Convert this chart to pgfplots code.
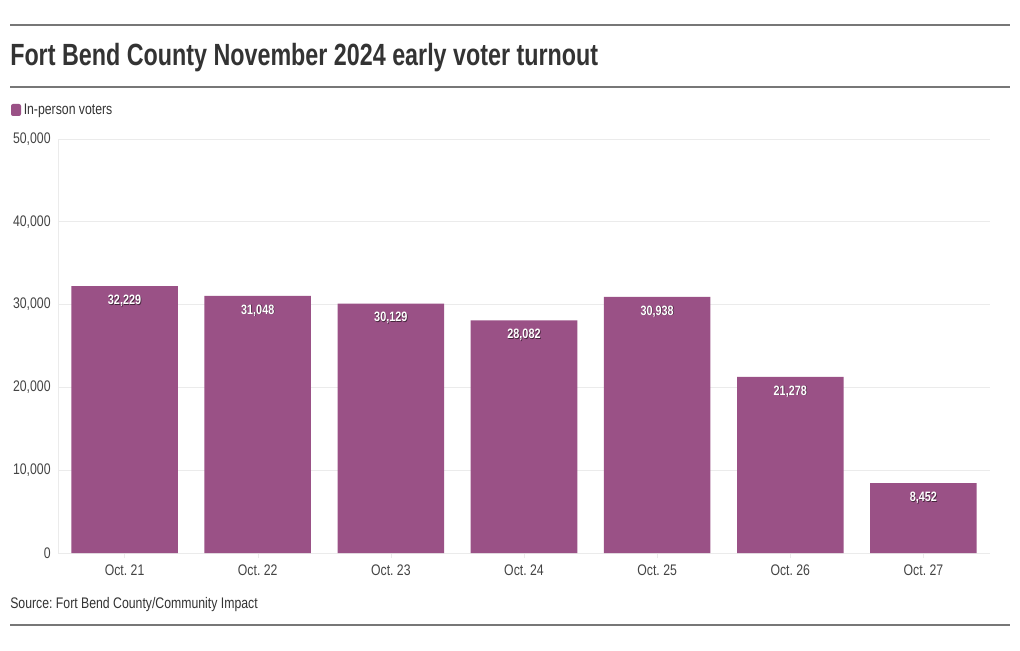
\documentclass[border=0pt]{standalone}
\usepackage{pgfplots}
\pgfplotsset{compat=1.18}
\usepackage{fontspec}
\setmainfont{Liberation Sans}[FakeStretch=0.80]
\newfontfamily\titlefont{Liberation Sans}[FakeStretch=0.76]
\frenchspacing
\definecolor{barc}{HTML}{9A5186}
\definecolor{txt}{HTML}{333333}
\definecolor{tick}{HTML}{444444}
\definecolor{rule}{HTML}{777777}
\definecolor{gridc}{HTML}{EBEBEB}
\pgfplotstableread{
x y
0 32229
1 31048
2 30129
3 28082
4 30938
5 21278
6 8452
}\turnout
\begin{document}
\begin{tikzpicture}[x=0.75pt,y=0.75pt]
\fill[white] (0,0) rectangle (1020,650);
\draw[rule,line width=0.9pt] (10,625) -- (1010,625);
\draw[rule,line width=0.9pt] (10,563) -- (1010,563);
\draw[rule,line width=0.9pt] (10,25) -- (1010,25);
\node[anchor=base west,inner sep=0pt,text=txt,font=\titlefont\bfseries\fontsize{23}{27}\selectfont] at (10,584) {Fort Bend County November 2024 early voter turnout};
\fill[barc,rounded corners=1.5pt] (11,534) rectangle (21,546);
\node[anchor=base west,inner sep=0pt,text=txt,font=\fontsize{11.5}{13}\selectfont] at (23.5,535) {In-person voters};
\node[anchor=base west,inner sep=0pt,text=txt,font=\fontsize{11.5}{13}\selectfont] at (10,42) {Source: Fort Bend County/Community Impact};
\begin{axis}[
  at={(43.5pt,72.75pt)}, anchor=south west,
  scale only axis, width=699pt, height=310.5pt,
  xmin=-0.5, xmax=6.5, ymin=0, ymax=50000,
  ybar, bar width=0.8,
  axis line style={gridc},
  axis x line*=bottom, axis y line*=left,
  ymajorgrids, grid style={gridc, line width=0.6pt},
  ytick={0,10000,20000,30000,40000,50000},
  xtick=data,
  xticklabels={Oct. 21,Oct. 22,Oct. 23,Oct. 24,Oct. 25,Oct. 26,Oct. 27},
  major tick length=4pt,
  xtick style={gridc}, ytick style={draw=none},
  tick label style={text=tick, font=\fontsize{11.5}{13}\selectfont},
  /pgf/number format/assume math mode=true,
  scaled y ticks=false,
  yticklabel style={/pgf/number format/1000 sep={,}, xshift=-2pt},
  xticklabel style={yshift=-1pt},
  clip=false,
]
\addplot[fill=barc, draw=none, bar shift=0] table[x=x,y=y] {\turnout};
\addplot[draw=none, fill=none, bar shift=0,
  nodes near coords,
  nodes near coords style={anchor=north, xshift=0.5pt, yshift=-3.6pt, text=black, opacity=0.55, font=\bfseries\fontsize{10.2}{11}\selectfont, /pgf/number format/1000 sep={,}, /pgf/number format/assume math mode=true}]
  table[x=x,y=y] {\turnout};
\addplot[draw=none, fill=none, bar shift=0,
  nodes near coords,
  nodes near coords style={anchor=north, yshift=-3pt, text=white, font=\bfseries\fontsize{10.2}{11}\selectfont, /pgf/number format/1000 sep={,}, /pgf/number format/assume math mode=true}]
  table[x=x,y=y] {\turnout};
\end{axis}
\end{tikzpicture}
\end{document}
